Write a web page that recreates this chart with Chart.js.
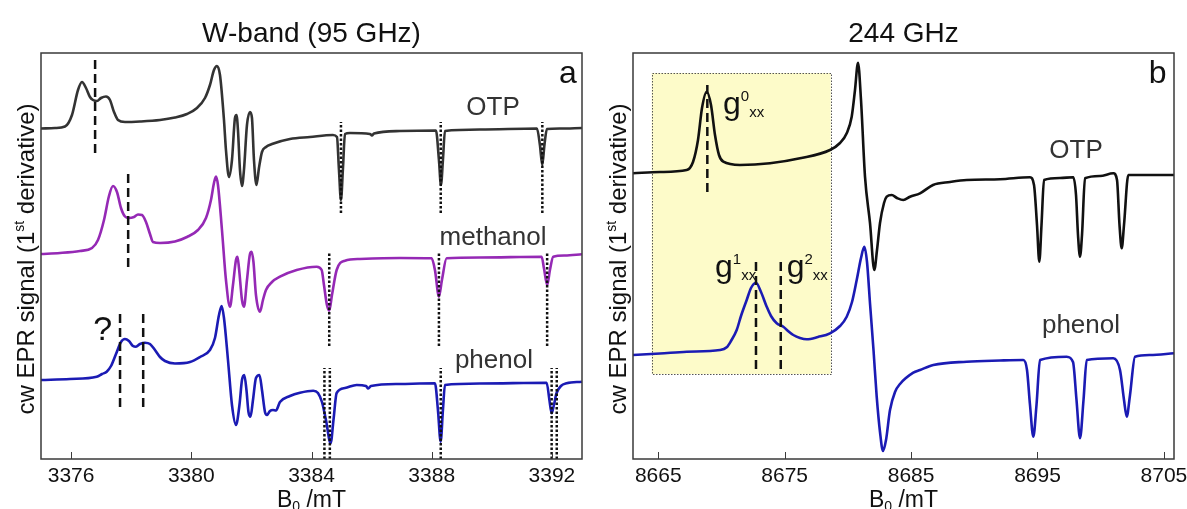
<!DOCTYPE html>
<html>
<head>
<meta charset="utf-8">
<script src="https://cdn.jsdelivr.net/npm/chart.js@4.4.1/dist/chart.umd.min.js"></script>
<style>
  body { margin: 0; background: #fff; width: 1187px; height: 509px; overflow: hidden; position: relative; }
  canvas { position: absolute; top: 0; }
  #chartA { left: 0; }
  #chartB { left: 595px; }
</style>
</head>
<body>
<canvas id="chartA" width="595" height="509"></canvas>
<canvas id="chartB" width="592" height="509"></canvas>
<script>
// ---- panel a: W-band (95 GHz), field in mT, signal in a.u. (offset traces) ----
const ticksA = [3376, 3380, 3384, 3388, 3392];

const otpAB = [3375.000, 3375.466, 3375.798, 3376.031, 3376.231, 3376.364, 3376.497, 3376.630, 3376.730, 3376.863,
  3376.996, 3377.162, 3377.295, 3377.429, 3377.562, 3377.794, 3378.293, 3378.959, 3379.458, 3379.857,
  3380.190, 3380.456, 3380.622, 3380.755, 3380.855, 3380.955, 3381.088, 3381.154, 3381.254, 3381.354,
  3381.454, 3381.504, 3381.553, 3381.620, 3381.687, 3381.753, 3381.853, 3381.953, 3382.019, 3382.086,
  3382.169, 3382.252, 3382.352, 3382.485, 3382.685, 3383.283, 3383.949, 3384.714, 3384.847, 3384.914,
  3384.980, 3385.047, 3385.113, 3385.279, 3385.945, 3386.011, 3386.078, 3386.943, 3388.140, 3388.240,
  3388.307, 3388.373, 3388.440, 3389.604, 3391.500, 3391.600, 3391.677, 3391.750, 3391.833, 3392.265, 3392.997];
const otpAY = [330.5, 331, 332.5, 344, 369, 377, 371, 362, 359, 358,
  361, 362.5, 359, 347, 339, 337, 337.5, 339, 341.5, 345,
  351, 361, 374, 389, 393, 384, 339, 309, 282, 299,
  341, 344, 329, 289, 273, 289, 334, 347, 341, 299,
  274, 291, 307, 312, 315, 320, 322, 324, 322, 289,
  259, 291, 325, 326, 325, 323.5, 325.5, 328, 328.5, 299,
  274, 299, 328, 329.5, 330.5, 314, 294, 314, 330, 330.5, 331];

const methAB = [3375.000, 3375.632, 3376.297, 3376.697, 3376.896, 3377.096, 3377.262, 3377.395, 3377.528, 3377.661,
  3377.794, 3377.927, 3378.094, 3378.227, 3378.360, 3378.493, 3378.626, 3378.726, 3378.959, 3379.458,
  3379.857, 3380.223, 3380.489, 3380.655, 3380.755, 3380.822, 3380.888, 3381.021, 3381.154, 3381.287,
  3381.387, 3381.487, 3381.537, 3381.587, 3381.687, 3381.753, 3381.853, 3381.953, 3382.009, 3382.069,
  3382.152, 3382.285, 3382.385, 3382.485, 3382.685, 3382.951, 3383.506, 3384.172, 3384.338, 3384.415,
  3384.514, 3384.591, 3384.681, 3384.837, 3385.113, 3385.612, 3386.943, 3387.997, 3388.107, 3388.240,
  3388.340, 3388.496, 3389.604, 3391.657, 3391.733, 3391.843, 3391.933, 3392.043, 3392.432, 3392.997];
const methAY = [205, 206, 208, 211, 219, 239, 263, 273, 267, 251,
  242.5, 241, 242, 244.5, 244, 237, 225, 217, 216, 217.5,
  222, 229, 241, 259, 276, 282.5, 274, 229, 179, 152.3,
  174, 199, 202.3, 191, 159, 152.3, 179, 205, 207.3, 197,
  164, 147.3, 159, 169, 177, 182.3, 189, 192.3, 189, 174,
  154, 148.3, 164, 189, 198.3, 200, 201, 200.7, 189, 162.3,
  179, 200.7, 201.5, 202.3, 191, 174, 189, 202.3, 203.5, 204.7];

const phenAB = [3375.000, 3375.965, 3376.853, 3377.029, 3377.186, 3377.329, 3377.495, 3377.661, 3377.794, 3377.927,
  3378.061, 3378.160, 3378.293, 3378.460, 3378.626, 3378.792, 3378.959, 3379.125, 3379.458, 3379.957,
  3380.289, 3380.622, 3380.788, 3380.922, 3381.011, 3381.088, 3381.221, 3381.354, 3381.487, 3381.603,
  3381.687, 3381.763, 3381.836, 3381.903, 3381.969, 3382.053, 3382.152, 3382.269, 3382.352, 3382.452,
  3382.518, 3382.618, 3382.718, 3382.818, 3382.951, 3383.283, 3383.616, 3384.059, 3384.215, 3384.348,
  3384.481, 3384.637, 3384.731, 3384.837, 3385.113, 3385.502, 3385.812, 3385.888, 3385.978, 3386.943,
  3388.107, 3388.207, 3388.297, 3388.373, 3388.440, 3389.604, 3391.823, 3391.916, 3391.989, 3392.065,
  3392.155, 3392.299, 3392.489, 3392.997];
const phenAY = [79, 80, 82.3, 85, 87.3, 93, 105, 117, 120, 118,
  113, 112.3, 115, 116.3, 115, 109, 102, 98, 95.5, 97,
  102, 109, 121, 144, 153, 141, 99, 54, 34, 54,
  79, 84, 69, 47, 42.3, 59, 81, 84, 69, 47,
  44, 48, 49, 48.5, 57, 63, 66.3, 68.3, 66, 57,
  39, 15.7, 39, 66, 71, 74, 73, 70.5, 73, 75,
  75.7, 49, 17.3, 49, 74, 75.5, 76.3, 59, 45.7, 54,
  66, 73, 75.7, 77.3];

// marker lines in panel a: field position, lower and upper signal level
const dashA = [3376.80, 3377.90, 3377.63, 3378.40];
const dashAFrom = [306, 192, 52, 52];
const dashATo = [399, 286, 146, 146];
const dotA = [3384.98, 3388.30, 3391.68, 3384.59, 3388.24, 3391.84, 3384.43, 3384.61, 3388.30, 3391.99, 3392.16];
const dotAFrom = [246, 246, 246, 113, 113, 113, 0, 0, 0, 0, 0];
const dotATo = [337, 337, 337, 206, 206, 206, 91, 91, 91, 91, 91];

// ---- panel b: 244 GHz ----
const ticksB = [8665, 8675, 8685, 8695, 8705];

const otpBB = [8663.000, 8665.136, 8667.248, 8667.747, 8668.142, 8668.459, 8668.831, 8669.171, 8669.487, 8669.804,
  8670.144, 8671.465, 8673.839, 8676.212, 8678.585, 8679.377, 8679.907, 8680.302, 8680.563, 8680.801,
  8681.038, 8681.354, 8681.750, 8682.090, 8682.304, 8682.541, 8682.858, 8683.071, 8683.467, 8683.886,
  8684.384, 8684.915, 8685.706, 8686.734, 8688.079, 8689.400, 8692.035, 8694.408, 8694.725, 8694.962,
  8695.144, 8695.318, 8695.516, 8696.782, 8697.834, 8698.048, 8698.206, 8698.364, 8698.522, 8698.759,
  8699.946, 8700.998, 8701.291, 8701.489, 8701.663, 8701.845, 8702.185, 8703.902, 8705.801];
const otpBY = [285.7, 287, 289, 297, 319, 351, 367.3, 354, 324, 304,
  297.3, 294, 295.7, 300.7, 309, 316, 325.7, 342.3, 369, 396.3,
  359, 282.3, 236, 189, 209, 236, 256, 262.3, 264, 261,
  259, 262.3, 265.7, 274, 277, 279, 279.7, 281.7, 274, 234,
  197.3, 234, 279, 281, 281.7, 264, 224, 202.3, 224, 280.7,
  283, 285.7, 279, 234, 210.7, 234, 284, 284, 284];

const phenBB = [8663.000, 8665.136, 8667.248, 8669.883, 8670.413, 8670.753, 8671.204, 8671.544, 8671.995, 8672.335,
  8672.731, 8673.127, 8673.578, 8673.918, 8674.369, 8674.891, 8675.263, 8675.682, 8676.212, 8676.742,
  8677.636, 8678.585, 8679.377, 8679.907, 8680.326, 8680.698, 8681.038, 8681.299, 8681.513, 8681.750,
  8682.027, 8682.280, 8682.541, 8682.778, 8683.016, 8683.332, 8683.728, 8684.123, 8685.176, 8685.706,
  8686.758, 8689.400, 8692.035, 8693.878, 8694.171, 8694.408, 8694.669, 8694.922, 8695.199, 8697.311,
  8697.810, 8698.087, 8698.364, 8698.641, 8698.894, 8700.998, 8701.528, 8701.845, 8702.058, 8702.320,
  8702.715, 8703.902, 8705.801];
const phenBY = [104, 105.5, 107.3, 109, 111.7, 118, 129, 143, 159, 171,
  176.3, 167, 152.3, 143, 135.7, 132.3, 128, 124, 121, 119.7,
  122, 125.7, 133, 142.3, 157, 179, 201, 212.3, 197, 155.7,
  109, 62.3, 27, 8, 19, 49, 67, 75, 86.3, 89,
  94, 97.3, 98.5, 99, 89, 54, 22.3, 54, 99, 102.3,
  97, 59, 20.7, 59, 99, 100.7, 89, 59, 42.3, 64,
  102.3, 104, 105.7];

const dashB = [8668.88, 8672.73, 8674.69];
const dashBFrom = [267, 90, 90];
const dashBTo = [377, 199, 199];
const boxB = [8664.48, 8678.64];
const boxY = [85, 386];

const FAMILY = '"Liberation Sans", Arial, Helvetica, sans-serif';
const font = sz => sz + 'px ' + FAMILY;

function pts(bs, ys) {
  return bs.map((b, i) => ({ x: b, y: ys[i] }));
}
function curve(bs, ys, color) {
  return { data: pts(bs, ys), borderColor: color, borderWidth: 2.6, showLine: true,
    pointRadius: 0, cubicInterpolationMode: 'monotone', fill: false };
}
function marks(bs, from, to, dash, width) {
  return bs.map((b, i) => ({
    data: [{ x: b, y: from[i] }, { x: b, y: to[i] }],
    borderColor: '#111', borderWidth: width, borderDash: dash, showLine: true, pointRadius: 0
  }));
}

// multi-part text: [text, size, dy]
function drawParts(ctx, parts, x, y, align) {
  let w = 0;
  parts.forEach(p => { ctx.font = font(p[1]); w += ctx.measureText(p[0]).width; });
  let cx = align === 'center' ? x - w / 2 : x;
  ctx.textAlign = 'left';
  ctx.textBaseline = 'alphabetic';
  parts.forEach(p => {
    ctx.font = font(p[1]);
    ctx.fillText(p[0], cx, y + p[2]);
    cx += ctx.measureText(p[0]).width;
  });
}

const panelDecor = {
  id: 'panelDecor',
  beforeDatasetsDraw(chart, args, o) {
    if (!o.box) return;
    const { ctx, scales: { x, y } } = chart;
    const x0 = x.getPixelForValue(o.box[0]), x1 = x.getPixelForValue(o.box[1]);
    const y0 = y.getPixelForValue(o.boxY[1]), y1 = y.getPixelForValue(o.boxY[0]);
    ctx.save();
    ctx.fillStyle = '#fdfbc9';
    ctx.fillRect(x0, y0, x1 - x0, y1 - y0);
    ctx.strokeStyle = '#555';
    ctx.lineWidth = 1;
    ctx.setLineDash([1.5, 1.5]);
    ctx.strokeRect(Math.round(x0) + 0.5, Math.round(y0) + 0.5, Math.round(x1 - x0), Math.round(y1 - y0));
    ctx.restore();
  },
  afterDraw(chart, args, o) {
    const { ctx, chartArea: a, scales: { x, y } } = chart;
    const mid = (a.left + a.right) / 2;
    ctx.save();
    ctx.strokeStyle = '#3a3a3a';
    ctx.lineWidth = 1.5;
    ctx.strokeRect(a.left, a.top, a.right - a.left, a.bottom - a.top);
    ctx.lineWidth = 1;
    o.ticks.forEach(v => {
      const px = Math.round(x.getPixelForValue(v)) + 0.5;
      ctx.beginPath();
      ctx.moveTo(px, a.bottom);
      ctx.lineTo(px, a.bottom - 7);
      ctx.stroke();
    });
    ctx.fillStyle = '#111';
    drawParts(ctx, [[o.title, 28, 0]], mid, 42, 'center');
    drawParts(ctx, [['B', 23, 0], ['0', 14, 4], [' /mT', 23, 0]], mid, 507, 'center');
    // rotated y title
    ctx.save();
    ctx.translate(a.left - 7, (a.top + a.bottom) / 2 + 3);
    ctx.rotate(-Math.PI / 2);
    drawParts(ctx, [['cw EPR signal (1', 24, 0], ['st', 14, -10], [' derivative)', 24, 0]], 0, 0, 'center');
    ctx.restore();
    o.labels.forEach(l => {
      ctx.fillStyle = l.color || '#333';
      drawParts(ctx, [[l.t, l.size, 0]], x.getPixelForValue(l.b), y.getPixelForValue(l.v), 'center');
    });
    (o.gLabels || []).forEach(g => {
      ctx.fillStyle = '#111';
      drawParts(ctx, [['g', 32, 0], [g.sup, 15, -13], ['xx', 15, 3]],
        x.getPixelForValue(g.b), y.getPixelForValue(g.v), 'left');
    });
    ctx.restore();
  }
};

function makeChart(id, pad, range, ticks, datasets, decor) {
  return new Chart(document.getElementById(id), {
    type: 'scatter',
    data: { datasets },
    options: {
      responsive: false,
      animation: false,
      devicePixelRatio: 1,
      layout: { padding: pad },
      plugins: { legend: { display: false }, tooltip: { enabled: false }, panelDecor: decor },
      scales: {
        x: {
          type: 'linear', min: range[0], max: range[1],
          afterBuildTicks: s => { s.ticks = ticks.map(v => ({ value: v })); },
          afterFit: s => { s.height = 50; s.paddingLeft = 0; s.paddingRight = 0; },
          grid: { display: false, drawTicks: false },
          border: { display: false },
          ticks: { font: { family: FAMILY, size: 21 }, color: '#111', padding: 5,
            maxRotation: 0, autoSkip: false, callback: v => String(v) }
        },
        y: { display: false, min: 0, max: 406 }
      }
    },
    plugins: [panelDecor]
  });
}

makeChart('chartA', { left: 41, right: 13, top: 53, bottom: 0 }, [3375, 3393], ticksA, [
  ...marks(dashA, dashAFrom, dashATo, [9, 5], 2.5),
  ...marks(dotA, dotAFrom, dotATo, [2.5, 2], 2.5),
  curve(otpAB, otpAY, '#333333'),
  curve(methAB, methAY, '#9529b5'),
  curve(phenAB, phenAY, '#1b1bb4')
], {
  title: 'W-band (95 GHz)',
  ticks: ticksA,
  labels: [
    { t: 'OTP', b: 3390.04, v: 344, size: 26 },
    { t: 'methanol', b: 3390.04, v: 214, size: 26 },
    { t: 'phenol', b: 3390.07, v: 91, size: 26 },
    { t: '?', b: 3377.05, v: 119, size: 34, color: '#111' },
    { t: 'a', b: 3392.53, v: 376, size: 32, color: '#111' }
  ]
});

makeChart('chartB', { left: 38, right: 13, top: 53, bottom: 0 }, [8663, 8705.8], ticksB, [
  ...marks(dashB, dashBFrom, dashBTo, [9, 5], 2.5),
  curve(otpBB, otpBY, '#111111'),
  curve(phenBB, phenBY, '#1b1bb4')
], {
  title: '244 GHz',
  ticks: ticksB,
  box: boxB,
  boxY: boxY,
  labels: [
    { t: 'OTP', b: 8698.05, v: 301, size: 26 },
    { t: 'phenol', b: 8698.44, v: 126, size: 26 },
    { t: 'b', b: 8704.50, v: 376, size: 32, color: '#111' }
  ],
  gLabels: [
    { sup: '0', b: 8670.12, v: 345 },
    { sup: '1', b: 8669.49, v: 182 },
    { sup: '2', b: 8675.16, v: 182 }
  ]
});
</script>
</body>
</html>
